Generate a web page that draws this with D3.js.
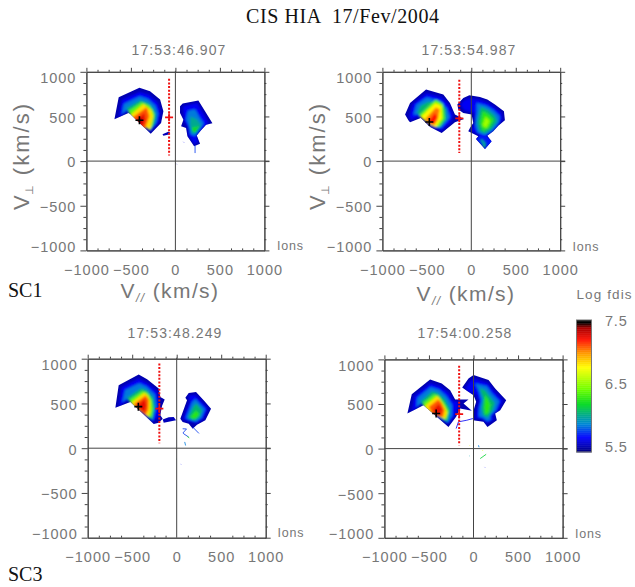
<!DOCTYPE html>
<html>
<head>
<meta charset="utf-8">
<script src="https://cdn.jsdelivr.net/npm/d3@7"></script>
<style>
  html, body { margin: 0; padding: 0; background: #fff; }
  svg { display: block; }
  text { font-family: "Liberation Sans", sans-serif; fill: #777; }
  .serif { font-family: "Liberation Serif", serif; fill: #111; }
</style>
</head>
<body>
<svg id="chart" width="635" height="587"></svg>
<script>
// Tick values and labels
const majorTicks = [-1000, -500, 0, 500, 1000];
const minorTicks = [-875, -750, -625, -375, -250, -125, 125, 250, 375, 625, 750, 875];
const barTicks = [5.5, 6.5, 7.5];

// Colour bar stops (log fdis -> colour)
const colorLevels = [5.5, 5.58, 5.72, 5.92, 6.05, 6.22, 6.45, 6.78, 7.0, 7.2, 7.38, 7.46, 7.5];
const colorValues = ["#000078", "#0000b0", "#0000ff", "#0088d8", "#00a890", "#00d820", "#70ff00", "#ffff00", "#ff9800", "#ff1000", "#a80000", "#000000", "#000000"];

// Panel 1 (SC1, 17:53:46.907): [level, [[v_par, v_perp], ...]]
const p1Left = [
  [5.58, [[-685,468],[-637,715],[-404,820],[-285,783],[-172,689],[-135,558],[-161,427],[-277,307],[-509,528],[-528,539]]],
  [5.7, [[-640,490],[-600,690],[-400,775],[-300,745],[-200,660],[-165,550],[-190,430],[-280,335],[-500,510],[-530,560]]],
  [5.9, [[-600,520],[-580,640],[-400,725],[-310,695],[-225,620],[-195,530],[-215,430],[-285,350],[-495,495],[-535,585]]],
  [6.1, [[-550,590],[-395,680],[-305,650],[-245,580],[-220,500],[-240,410],[-285,345],[-500,505]]],
  [6.4, [[-525,560],[-380,660],[-290,620],[-235,530],[-260,400],[-285,345],[-500,500]]],
  [6.85, [[-500,520],[-360,640],[-270,570],[-250,500],[-285,352],[-490,500]]],
  [7.1, [[-480,490],[-322,603],[-292,502],[-348,341],[-470,450]]],
  [7.25, [[-440,470],[-345,540],[-335,460],[-370,380],[-430,430]]],
  [7.36, [[-420,470],[-375,490],[-380,420],[-420,440]]]
];
const p1Right = [
  [5.58, [[52,614],[82,644],[258,678],[333,558],[416,423],[345,408],[288,345],[240,288],[277,195],[210,165],[135,277],[120,371],[64,389],[90,464],[52,539]]],
  [5.7, [[85,615],[245,650],[310,540],[370,430],[285,340],[240,280],[250,210],[215,190],[150,280],[140,375],[100,450],[90,540]]],
  [5.9, [[140,560],[220,580],[270,490],[320,420],[265,350],[220,280],[170,300],[150,400],[120,470]]],
  [6.05, [[170,500],[240,470],[290,400],[240,320],[190,310],[165,400]]],
  [6.25, [[190,380],[270,390],[220,320],[190,340]]]
];
const p1Tail = [[5.6, [[-145,300],[-80,330],[-65,325],[-60,300],[-135,285]]]];
const p1Specks = [[5.8, [[221,175],[221,90]]], [5.7, [[90,215],[95,210]]], [5.6, [[10,-30],[15,-35]]]];

// Panel 2 (SC1, 17:53:54.987)
const p2Left = [
  [5.58, [[-745,521],[-689,652],[-509,801],[-315,745],[-240,652],[-184,521],[-82,472],[-184,434],[-333,315],[-464,382],[-569,483],[-689,434],[-708,457]]],
  [5.7, [[-700,500],[-660,640],[-505,760],[-330,715],[-255,630],[-205,510],[-225,440],[-335,340],[-465,400],[-570,510],[-680,460]]],
  [5.9, [[-650,520],[-620,630],[-500,715],[-345,670],[-275,590],[-240,490],[-340,370],[-465,415],[-565,530]]],
  [6.1, [[-610,530],[-570,620],[-480,665],[-360,650],[-290,590],[-280,470],[-345,390],[-465,425],[-570,520]]],
  [6.4, [[-590,510],[-400,690],[-320,640],[-300,480],[-365,380],[-460,410]]],
  [6.8, [[-570,495],[-405,650],[-335,620],[-330,480],[-400,375],[-465,405]]],
  [7.05, [[-520,470],[-400,600],[-355,580],[-375,470],[-420,400],[-470,420]]],
  [7.2, [[-480,450],[-410,540],[-385,500],[-410,420],[-470,430]]]
];
const p2Right = [
  [5.58, [[-157,633],[-90,708],[-22,738],[97,719],[180,689],[266,633],[367,558],[378,457],[303,397],[247,333],[180,285],[228,221],[154,135],[52,247],[79,277],[-34,333],[-15,371],[22,427],[4,521],[-90,539],[-146,577]]],
  [5.7, [[-120,630],[-85,680],[-20,705],[95,690],[175,660],[255,610],[340,540],[350,465],[290,380],[235,325],[165,270],[215,215],[155,165],[75,250],[95,290],[0,340],[40,430],[30,540],[-80,570]]],
  [5.9, [[60,650],[170,620],[250,570],[320,500],[310,430],[240,340],[150,290],[70,320],[40,420],[60,540]]],
  [6.1, [[110,610],[190,570],[260,510],[290,450],[225,360],[150,310],[90,340],[70,430],[90,540]]],
  [6.3, [[130,560],[200,520],[250,460],[200,370],[130,340],[100,430]]],
  [6.55, [[160,500],[210,450],[170,370],[125,400]]]
];
const p2Foot = [
  [5.75, [[228,221],[154,135],[60,245],[95,285],[165,280]]],
  [6.0, [[170,200],[150,150],[90,235],[125,250]]],
  [6.25, [[160,175],[150,145],[120,190]]]
];

// Panel 3 (SC3, 17:53:48.249)
const p3Left = [
  [5.58, [[-689,453],[-652,704],[-427,824],[-333,771],[-202,667],[-184,573],[-135,543],[-165,472],[-184,367],[-157,330],[-202,285],[-258,270],[-521,517]]],
  [5.7, [[-650,470],[-620,680],[-430,780],[-340,735],[-225,640],[-205,540],[-200,360],[-265,295],[-510,500],[-530,550]]],
  [5.9, [[-610,510],[-580,650],[-420,725],[-340,690],[-245,600],[-225,470],[-270,310],[-505,490],[-540,570]]],
  [6.1, [[-560,560],[-400,670],[-340,650],[-265,560],[-250,460],[-275,320],[-500,480]]],
  [6.4, [[-530,540],[-385,640],[-330,620],[-280,540],[-265,440],[-285,340],[-495,470]]],
  [6.85, [[-510,510],[-365,620],[-325,590],[-295,520],[-295,410],[-320,350],[-480,470]]],
  [7.1, [[-480,490],[-350,590],[-315,540],[-320,430],[-350,370],[-460,460]]],
  [7.25, [[-440,480],[-360,550],[-340,480],[-360,400],[-430,450]]]
];
const p3Right = [
  [5.58, [[41,330],[116,536],[97,565],[135,618],[217,629],[303,536],[386,442],[322,311],[228,262],[180,217],[135,273],[67,292]]],
  [5.7, [[70,330],[145,520],[135,590],[215,595],[350,440],[300,330],[225,280],[100,310]]],
  [5.9, [[105,340],[170,510],[210,550],[320,435],[280,340],[215,295],[130,320]]],
  [6.1, [[130,345],[190,470],[220,500],[285,420],[255,345],[200,310],[150,330]]],
  [6.3, [[155,350],[215,420],[255,385],[220,335],[180,330]]]
];
const p3Tail = [[5.6, [[-157,322],[-90,345],[-34,348],[-7,311],[-146,285]]]];
const p3Specks = [
  [5.8, [[67,217],[110,215],[70,170],[79,161],[135,124]]],
  [6.3, [[120,130],[142,115]]],
  [5.9, [[90,70],[100,30]]],
  [5.8, [[180,236],[250,165]]],
  [6.0, [[-7,-120],[-2,-122]]],
  [5.7, [[45,-176],[48,-180]]]
];

// Panel 4 (SC3, 17:54:00.258)
const p4Left = [
  [5.58, [[-742,393],[-693,610],[-487,775],[-356,730],[-262,655],[-206,551],[-56,551],[-112,506],[-19,423],[-150,449],[-195,356],[-281,243],[-562,487]]],
  [5.7, [[-690,420],[-665,590],[-485,735],[-370,695],[-280,625],[-225,530],[-180,530],[-170,470],[-215,360],[-285,275],[-555,470],[-570,510]]],
  [5.9, [[-640,460],[-630,570],[-480,690],[-385,660],[-305,590],[-240,490],[-240,370],[-290,290],[-550,450],[-575,520]]],
  [6.1, [[-590,530],[-465,640],[-395,620],[-320,550],[-265,440],[-295,305],[-545,440]]],
  [6.4, [[-565,510],[-440,610],[-395,590],[-330,510],[-280,420],[-305,320],[-540,430]]],
  [6.85, [[-545,480],[-410,590],[-380,560],[-325,470],[-295,400],[-320,335],[-520,420]]],
  [7.1, [[-500,470],[-395,550],[-360,510],[-325,430],[-345,350],[-470,400]]],
  [7.25, [[-450,440],[-390,500],[-350,440],[-380,360],[-440,390]]]
];
const p4Right = [
  [5.58, [[-127,685],[-56,786],[0,824],[169,768],[243,674],[367,543],[300,431],[243,393],[262,318],[157,243],[112,300],[-7,318],[7,449],[30,524],[0,599],[-75,648]]],
  [5.7, [[-90,680],[-40,755],[5,790],[160,735],[225,650],[330,540],[280,430],[220,380],[225,320],[155,280],[105,325],[25,340],[35,450],[60,530],[30,610],[-60,640]]],
  [5.9, [[20,730],[150,700],[205,620],[290,530],[250,430],[190,370],[190,320],[150,310],[100,350],[60,360],[65,460],[85,540],[60,640]]],
  [6.1, [[70,680],[135,650],[180,590],[240,510],[215,430],[160,350],[110,370],[90,450],[110,550]]],
  [6.3, [[130,600],[160,560],[190,490],[170,400],[130,380],[120,460]]]
];
const p4Specks = [
  [5.7, [[-195,225],[-169,300],[-75,318],[-7,337]]],
  [6.2, [[75,-112],[142,-64]]],
  [5.9, [[56,37],[62,15]]],
  [6.75, [[-45,37],[-40,32]]],
  [5.7, [[0,-187],[5,-190]]],
  [5.7, [[124,-206],[128,-210]]],
  [6.7, [[101,-19],[104,-25]]],
  [6.0, [[-45,-82],[-40,-85]]]
];

// Frame, blobs and marker values for each panel
const panels = [
  { time: "17:53:46.907", timePos: [179, 55], box: [86.4, 264.4, 71.8, 250.4], blobs: [p1Left, p1Right, p1Tail], specks: p1Specks, dotX: -71, dotY: [64, 921], red: [-71, 490], black: [-404, 457], ions: [277, 250], yTitle: true, xTitle: [170, 298] },
  { time: "17:53:54.987", timePos: [469, 54.5], box: [382.4, 560.2, 71.8, 250.4], blobs: [p2Left, p2Right, p2Foot], specks: [], dotX: -135, dotY: [90, 910], red: [-135, 479], black: [-472, 438], ions: [572.5, 251], yTitle: true, xTitle: [466, 301] },
  { time: "17:53:48.249", timePos: [175, 338], box: [87.7, 265.7, 358.7, 537.7], blobs: [p3Left, p3Right, p3Tail], specks: p3Specks, dotX: -195, dotY: [56, 947], red: [-195, 442], black: [-431, 464], ions: [277.5, 537], yTitle: false },
  { time: "17:54:00.258", timePos: [465, 338], box: [384.4, 562.6, 359.4, 537.8], blobs: [p4Left, p4Right], specks: p4Specks, dotX: -161, dotY: [37, 929], red: [-161, 386], black: [-419, 393], ions: [575, 538], yTitle: false }
];

const svg = d3.select("#chart");
const axisColor = "#444";
const minus = d3.format(".0f");
const tickLabel = d => minus(d).replace("-", "\u2212");

const color = d3.scaleLinear().domain(colorLevels).range(colorValues);

// Soft edges between the contour levels
svg.append("defs").append("filter")
  .attr("id", "soft")
  .attr("x", "-10%").attr("y", "-10%").attr("width", "120%").attr("height", "120%")
  .append("feGaussianBlur").attr("stdDeviation", 1.1);

// Main title and spacecraft labels
svg.append("text").attr("class", "serif")
  .attr("x", 246).attr("y", 23).attr("font-size", 20).attr("textLength", 193)
  .style("white-space", "pre").text("CIS HIA  17/Fev/2004");
svg.append("text").attr("class", "serif").attr("x", 8).attr("y", 297).attr("font-size", 20).text("SC1");
svg.append("text").attr("class", "serif").attr("x", 8).attr("y", 581).attr("font-size", 20).text("SC3");

panels.forEach((p, pi) => {
  const [x0, x1, y0, y1] = p.box;
  const x = d3.scaleLinear().domain([-1000, 1000]).range([x0, x1]);
  const y = d3.scaleLinear().domain([-1000, 1000]).range([y1, y0]);
  const path = d3.line().x(d => x(d[0])).y(d => y(d[1]));
  const g = svg.append("g");

  // Contour blobs: outer ring sharp, inner rings blurred and clipped to it
  p.blobs.forEach((rings, bi) => {
    const clipId = `clip-${pi}-${bi}`;
    svg.select("defs").append("clipPath").attr("id", clipId)
      .append("path").attr("d", path(rings[0][1]) + "Z");
    g.append("path").attr("d", path(rings[0][1]) + "Z").attr("fill", color(rings[0][0]));
    g.append("g").attr("clip-path", `url(#${clipId})`)
      .append("g").attr("filter", "url(#soft)")
      .selectAll("path")
      .data(rings.slice(1))
      .join("path")
      .attr("d", d => path(d[1]) + "Z")
      .attr("fill", d => color(d[0]));
  });

  // Thin streaks and isolated points
  g.selectAll("path.speck")
    .data(p.specks)
    .join("path")
    .attr("class", "speck")
    .attr("d", d => path(d[1]))
    .attr("fill", "none")
    .attr("stroke", d => color(d[0]))
    .attr("stroke-width", 1)
    .attr("opacity", 0.8);

  // Axes: box with outward ticks
  const styleAxis = sel => {
    sel.selectAll("path,line").attr("stroke", axisColor);
    sel.selectAll("text").attr("font-size", 14.5).attr("fill", "#777")
      .style("font-family", "'Liberation Sans', sans-serif").style("letter-spacing", "1px");
  };
  const gx = g.append("g").attr("transform", `translate(0,${y1})`)
    .call(d3.axisBottom(x).tickValues(majorTicks).tickSize(0).tickPadding(14).tickFormat(tickLabel));
  gx.call(styleAxis);
  g.append("g").attr("transform", `translate(0,${y1})`)
    .call(d3.axisBottom(x).tickValues(minorTicks).tickSize(-2).tickSizeOuter(0).tickFormat("")).call(styleAxis);
  g.append("g").attr("transform", `translate(0,${y0})`)
    .call(d3.axisTop(x).tickValues(majorTicks).tickSize(4).tickSizeOuter(0).tickFormat("")).call(styleAxis);
  g.append("g").attr("transform", `translate(0,${y0})`)
    .call(d3.axisTop(x).tickValues(minorTicks).tickSize(2).tickSizeOuter(0).tickFormat("")).call(styleAxis);

  const gy = g.append("g").attr("transform", `translate(${x0},0)`)
    .call(d3.axisLeft(y).tickValues(majorTicks).tickSize(6).tickSizeOuter(0).tickPadding(4).tickFormat(tickLabel));
  gy.call(styleAxis);
  // end labels sit a little inside the frame
  gy.selectAll("text").attr("dy", d => d === 1000 ? "0.75em" : d === -1000 ? "0.05em" : "0.4em");
  g.append("g").attr("transform", `translate(${x0},0)`)
    .call(d3.axisLeft(y).tickValues(minorTicks).tickSize(3).tickSizeOuter(0).tickFormat("")).call(styleAxis);
  g.append("g").attr("transform", `translate(${x1},0)`)
    .call(d3.axisRight(y).tickValues(majorTicks).tickSize(5).tickSizeOuter(0).tickFormat("")).call(styleAxis);
  g.append("g").attr("transform", `translate(${x1},0)`)
    .call(d3.axisRight(y).tickValues(minorTicks).tickSize(2).tickSizeOuter(0).tickFormat("")).call(styleAxis);

  // Zero lines
  g.append("line").attr("x1", x0).attr("x2", x1 + 5).attr("y1", y(0)).attr("y2", y(0)).attr("stroke", axisColor);
  g.append("line").attr("x1", x(0)).attr("x2", x(0)).attr("y1", y0 - 1).attr("y2", y1).attr("stroke", axisColor);

  // Red dotted line and markers
  g.append("line")
    .attr("x1", x(p.dotX)).attr("x2", x(p.dotX))
    .attr("y1", y(p.dotY[1])).attr("y2", y(p.dotY[0]))
    .attr("stroke", "#f01010").attr("stroke-width", 2).attr("stroke-dasharray", "2,1.6");
  const plus = (v, col) => {
    const cx = x(v[0]), cy = y(v[1]);
    g.append("path").attr("d", `M${cx - 4},${cy}H${cx + 4}M${cx},${cy - 4}V${cy + 4}`)
      .attr("stroke", col).attr("stroke-width", 1.6).attr("fill", "none");
  };
  plus(p.red, "#f01010");
  plus(p.black, "#000");

  // Panel time and Ions label
  g.append("text").attr("x", p.timePos[0]).attr("y", p.timePos[1]).attr("text-anchor", "middle")
    .attr("font-size", 14).style("letter-spacing", "1.1px").text(p.time);
  g.append("text").attr("x", p.ions[0]).attr("y", p.ions[1]).attr("font-size", 12.5)
    .style("letter-spacing", "0.8px").text("Ions");

  // Axis titles on the top row
  if (p.yTitle) {
    const t = g.append("text").attr("transform", `translate(${x0 - 57},156) rotate(-90)`)
      .attr("text-anchor", "middle").attr("font-size", 22).style("letter-spacing", "2px");
    t.append("tspan").text("V");
    t.append("tspan").attr("font-size", 11).attr("dx", -2).attr("dy", 4).text("\u22A5");
    t.append("tspan").attr("dy", -4).text(" (km/s)");
  }
  if (p.xTitle) {
    const t = g.append("text").attr("x", p.xTitle[0]).attr("y", p.xTitle[1])
      .attr("text-anchor", "middle").attr("font-size", 21).style("letter-spacing", "1.4px");
    t.append("tspan").text("V");
    t.append("tspan").attr("font-size", 12).attr("dy", 4).attr("font-style", "italic").text("//");
    t.append("tspan").attr("dy", -4).text(" (km/s)");
  }
});

// Colour bar
const barY = d3.scaleLinear().domain([5.5, 7.5]).range([452, 320]);
const bar = svg.append("g");
bar.selectAll("rect")
  .data(d3.range(5.5, 7.5, 0.01))
  .join("rect")
  .attr("x", 576.5).attr("width", 15)
  .attr("y", d => barY(d + 0.01)).attr("height", barY(5.5) - barY(5.51) + 0.4)
  .attr("fill", d => color(d));
bar.append("rect").attr("x", 576.5).attr("y", 320).attr("width", 15).attr("height", 132)
  .attr("fill", "none").attr("stroke", "#777");
const labelY = d3.scaleLinear().domain([5.5, 7.5]).range([447, 321]);
bar.selectAll("text.bar")
  .data(barTicks)
  .join("text")
  .attr("class", "bar")
  .attr("x", 605).attr("y", d => labelY(d)).attr("dy", "0.36em")
  .attr("font-size", 14.5).style("letter-spacing", "0.8px")
  .text(d => d.toFixed(1));
svg.append("text").attr("x", 576.5).attr("y", 299).attr("font-size", 13.5)
  .style("letter-spacing", "1.1px").text("Log fdis");
</script>
</body>
</html>
